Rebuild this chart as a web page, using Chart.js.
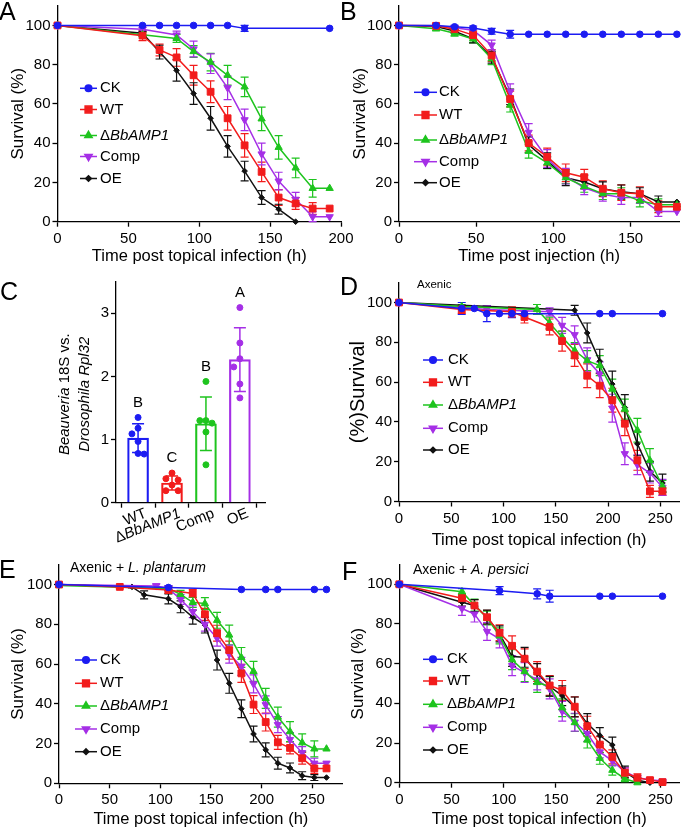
<!DOCTYPE html>
<html><head><meta charset="utf-8">
<script src="https://cdn.jsdelivr.net/npm/chart.js@4.4.1/dist/chart.umd.min.js"></script>
<style>
html,body{margin:0;padding:0;background:#fff;overflow:hidden;}
#wrap{position:relative;width:685px;height:829px;background:#fff;}
canvas{position:absolute;left:0;top:0;}
</style></head><body><div id="wrap">
<canvas id="cA" width="685" height="829"></canvas>
<canvas id="cB" width="685" height="829"></canvas>
<canvas id="cC" width="685" height="829"></canvas>
<canvas id="cD" width="685" height="829"></canvas>
<canvas id="cE" width="685" height="829"></canvas>
<canvas id="cF" width="685" height="829"></canvas>
</div>
<script>
// ---------------- DATA ----------------
const seriesLabels = ['CK', 'WT', 'ΔBbAMP1', 'Comp', 'OE'];
// each point: [time (h), survival (%), error]
const A_CK = [[0,100,0],[60,100,0],[72,100,0],[84,100,0],[96,100,0],[108,100,0],[120,100,0],[132,98.5,1.5],[192,98.5,0]];
const A_WT = [[0,100,0],[60,94.8,2.5],[72,87.5,3],[84,83.7,4.5],[96,74.6,5],[108,66.2,5.5],[120,52.7,6],[132,38.9,6],[144,25.4,5],[156,12.3,4],[168,9.3,3],[180,6.7,3],[192,6.7,0]];
const A_KO = [[0,100,0],[60,95.3,1],[84,93.4,2],[96,86.7,3],[108,81.3,4.5],[120,74.6,5],[132,68.7,5],[144,52.4,6],[156,37.9,6],[168,27.4,5],[180,17,4.5],[192,17,0]];
const A_Comp = [[0,100,0],[60,98.1,1],[84,95.1,2],[96,88,4],[108,80.5,5],[120,68.2,6],[132,51.9,5.5],[144,34.5,5.5],[156,20.7,4.5],[168,11.4,3.5],[180,2.5,2.5],[192,2.5,0]];
const A_OE = [[0,100,0],[60,96,1],[72,86.4,3.5],[84,77.1,5.5],[96,65.3,5.5],[108,52.7,6],[120,38.4,5.5],[132,25.8,5],[144,12.3,3.5],[156,6.4,2.5],[168,0,0]];

const B_CK = [[0,100,0],[24,100,0],[36,99.3,0.8],[48,98.7,1],[60,97,1.5],[72,95.5,2],[84,95.5,0],[96,95.5,0],[108,95.5,0],[120,95.5,0],[132,95.5,0],[144,95.5,0],[156,95.5,0],[168,95.5,0],[180,95.5,0]];
const B_WT = [[0,100,0],[24,99.8,0.5],[36,98.1,1],[48,95.1,2],[60,84.7,3],[72,62.5,4],[84,40.1,4],[96,33,4.5],[108,24.9,4.5],[120,22.7,4],[132,16.8,4],[144,14.8,4],[156,14.3,3.5],[168,7.6,3],[180,7.6,0]];
const B_KO = [[0,100,0],[24,98.3,1],[36,96,1.5],[48,93.1,2],[60,83,3],[72,59.4,3.5],[84,35.9,3.5],[96,30,3],[108,22.4,3],[120,18,3],[132,14.3,3],[144,14.3,3],[156,10.6,3],[168,8.6,3],[180,8.6,0]];
const B_Comp = [[0,100,0],[24,99.8,0.5],[36,98.8,1],[48,97.6,1.5],[60,90,2.5],[72,66.2,4],[84,45.5,4.5],[96,32.2,4.5],[108,23.2,4],[120,17.3,3.5],[132,14,3.5],[144,12.3,3.5],[156,12.3,3],[168,5.2,2.5],[180,5.2,0]];
const B_OE = [[0,100,0],[24,99.5,0.5],[36,97.1,1],[48,93.1,2],[60,83.8,3],[72,63.6,4],[84,39.2,4],[96,31.1,4],[108,22.4,4],[120,20.2,3.5],[132,16.8,3.5],[144,15.2,3.5],[156,14.3,3],[168,10.1,3],[180,10.1,0]];

const D_CK = [[0,100,0],[60,97,3],[72,97,0],[84,94.4,4],[96,94.4,0],[108,94.4,2],[120,94.4,0],[192,94.4,0],[204,94.4,0],[252,94.4,0]];
const D_WT = [[0,100,0],[60,96.5,2],[108,95.3,2.5],[120,92.7,3],[144,87.7,4],[156,80.6,5],[168,73.4,5.5],[180,63.2,6],[192,58.2,6],[204,50.9,6],[216,39.1,6],[228,20.7,5],[240,5.1,3],[252,5.1,2]];
const D_KO = [[0,100,0],[60,98,1],[132,96.5,2.5],[144,89.7,3],[156,82.6,3],[168,75.9,4],[180,70.8,5],[192,68.3,5],[204,56.5,5],[216,46.4,5],[228,35.8,6],[240,20.6,6],[252,7.6,3]];
const D_Comp = [[0,100,0],[84,96.5,2],[144,95.3,2],[156,88.5,4],[168,83.8,4.5],[180,71.2,6],[192,64.1,6],[204,46.9,7],[216,24,5.5],[228,18.5,5],[240,14.3,5],[252,7.1,4]];
const D_OE = [[0,100,0],[168,96.1,2.5],[180,84.7,5],[192,70.5,6],[204,59,6.5],[216,47.2,6.5],[228,29,6],[240,15.2,5],[252,9.3,4.5]];

const E_CK = [[0,100,0],[108,98.5,1],[180,97.5,0],[204,97.5,0],[216,97.5,0],[252,97.5,0],[264,97.5,0]];
const E_WT = [[0,100,0],[60,98.8,0.5],[108,97.2,1.5],[132,95.5,2],[144,85,3],[156,75.5,4],[168,67,4.5],[180,55.3,4.5],[192,39.6,4.5],[204,30.8,4.5],[216,20.6,3.5],[228,17.8,3],[240,12.6,3],[252,7.5,2.5],[264,7.5,0]];
const E_KO = [[0,99.5,0],[108,98,1],[120,95,2],[132,91,2.5],[144,90.4,3],[156,82,4],[168,74.6,5],[180,63.3,5],[192,56.3,5],[204,42.7,5],[216,33.3,5],[228,26,5],[240,20.4,4.5],[252,17.3,4],[264,17.3,0]];
const E_Comp = [[0,100,0],[96,99.3,1],[108,98,1.5],[120,92.5,2.5],[132,86.3,3],[144,80,3.5],[156,73,4],[168,65,4.5],[180,58.8,4.5],[192,50,4.5],[204,39.5,4.5],[216,29.5,4],[228,22,3.5],[240,15.4,3],[252,10.1,2.5],[264,10.1,0]];
const E_OE = [[0,100,0],[72,98.8,0.5],[84,94.8,2],[108,92.8,2.5],[120,88.8,3],[132,83.6,3.5],[144,79.6,4],[156,62,5],[168,50.3,5],[180,37.5,4.5],[192,24.8,4],[204,16.8,3.5],[216,10.1,3],[228,7.7,2.5],[240,3.8,2],[252,2.9,1.5],[264,2.9,0]];

const F_CK = [[0,100,0],[96,96.8,2],[132,95.2,2.5],[144,94,3],[192,94,0],[204,94,0],[252,94,0]];
const F_WT = [[0,100,0],[60,93,2],[72,89.3,3],[84,83.4,3.5],[96,75.6,4],[108,69,5],[120,62.5,5],[132,56,5],[144,49,5],[156,46.5,5],[168,38.3,5],[180,28.5,5],[192,19.2,4],[204,13,3.5],[216,5,2.5],[228,2.5,2],[240,1.3,1],[252,0.3,0.5]];
const F_KO = [[0,100,0],[60,96.3,1.5],[72,89.5,3],[84,83,3.5],[96,74,4],[108,62,5],[120,56,5],[132,50.5,5],[144,48.5,5],[156,37.8,4.5],[168,30.3,4.5],[180,21.5,4],[192,12.3,3],[204,6.3,2.5],[216,2,1.5],[228,0,0]];
const F_Comp = [[0,100,0],[60,87.8,3.5],[72,85,4],[84,76.2,4.5],[96,72.5,4.5],[108,59,5],[120,55.5,5],[132,51.8,5],[144,47.3,5],[156,36,5],[168,30.5,4.5],[180,24.8,4],[192,15.5,3],[204,11,2.5],[216,5.5,2],[228,2.5,1],[240,1.5,1],[252,0.8,0.5]];
const F_OE = [[0,100,0],[60,91,2],[72,89.3,3],[84,83.5,3.5],[96,75,4],[108,63.6,5],[120,63.2,5],[132,55,5],[144,48.6,5],[156,43.8,5],[168,38.2,5],[180,29.8,5],[192,23.8,4],[204,19,4],[216,5.4,3],[228,1.3,1],[240,0,0]];

// Panel C
const cGroups = ['WT', 'ΔBbAMP1', 'Comp', 'OE'];
const cLetters = ['B', 'C', 'B', 'A'];
const cWT = [1.35, 1.18, 1.09, 0.97, 0.78, 0.77];
const cKO = [0.47, 0.38, 0.36, 0.28, 0.19, 0.19];
const cComp = [1.92, 1.30, 1.30, 1.26, 1.12, 0.60];
const cOE = [3.09, 2.53, 2.28, 2.15, 1.88, 1.66];
const cTicks = [0, 1, 2, 3];
const survTicks = [0, 20, 40, 60, 80, 100];
const timeTicks = [0, 50, 100, 150, 200, 250];

// ---------------- STYLE ----------------
const FONT = 'Arial, "Liberation Sans", Helvetica, sans-serif';
const COL = ['#1c1cf2', '#f21c1c', '#1ec41e', '#a52fe6', '#111111'];
const MARK = [
  {pointStyle: 'circle', pointRadius: 3.3, pointRotation: 0},
  {pointStyle: 'rect', pointRadius: 4.8, pointRotation: 0},
  {pointStyle: 'triangle', pointRadius: 4.2, pointRotation: 0},
  {pointStyle: 'triangle', pointRadius: 4.2, pointRotation: 180},
  {pointStyle: 'rectRot', pointRadius: 2.8, pointRotation: 0}
];

function segsFor(label) {
  if (label.startsWith('Δ')) return [['Δ', false], [label.slice(1), true]];
  return [[label, false]];
}
function drawSegs(ctx, segs, x, y, size, align, baseline) {
  const fonts = segs.map(s => (s[1] ? 'italic ' : '') + size + 'px ' + FONT);
  const widths = segs.map((s, i) => { ctx.font = fonts[i]; return ctx.measureText(s[0]).width; });
  const total = widths.reduce((a, b) => a + b, 0);
  let cx = align === 'center' ? x - total / 2 : align === 'right' ? x - total : x;
  ctx.textAlign = 'left';
  ctx.textBaseline = baseline || 'middle';
  segs.forEach((s, i) => { ctx.font = fonts[i]; ctx.fillText(s[0], cx, y); cx += widths[i]; });
}
function drawMarker(ctx, m, x, y) {
  if (Chart.helpers && Chart.helpers.drawPoint) {
    Chart.helpers.drawPoint(ctx, {pointStyle: m.pointStyle, rotation: m.pointRotation, radius: m.pointRadius, borderWidth: 1}, x, y);
  } else {
    ctx.beginPath(); ctx.arc(x, y, m.pointRadius, 0, Math.PI * 2); ctx.fill();
  }
}

const errPlugin = {
  id: 'errbars',
  beforeDatasetsDraw(chart) {
    const ctx = chart.ctx, xs = chart.scales.x, ys = chart.scales.y;
    chart.data.datasets.forEach(ds => {
      if (!ds.errs) return;
      ctx.save(); ctx.strokeStyle = ds.borderColor; ctx.lineWidth = 1.2;
      ds.data.forEach((p, i) => {
        const e = ds.errs[i]; if (!e) return;
        const px = xs.getPixelForValue(p.x), y1 = ys.getPixelForValue(p.y + e), y2 = ys.getPixelForValue(p.y - e);
        ctx.beginPath();
        ctx.moveTo(px, y1); ctx.lineTo(px, y2);
        ctx.moveTo(px - 4, y1); ctx.lineTo(px + 4, y1);
        ctx.moveTo(px - 4, y2); ctx.lineTo(px + 4, y2);
        ctx.stroke();
      });
      ctx.restore();
    });
  }
};
const legendPlugin = {
  id: 'lg',
  afterDraw(chart, args, o) {
    if (!o || !o.ys) return;
    const ctx = chart.ctx;
    chart.data.datasets.forEach((ds, i) => {
      const y = o.ys[i];
      ctx.save();
      ctx.strokeStyle = ds.borderColor; ctx.lineWidth = ds.borderWidth;
      ctx.beginPath(); ctx.moveTo(o.x1, y); ctx.lineTo(o.x2, y); ctx.stroke();
      ctx.fillStyle = ds.borderColor; ctx.strokeStyle = ds.borderColor;
      drawMarker(ctx, MARK[i], (o.x1 + o.x2) / 2, y);
      ctx.fillStyle = '#000';
      drawSegs(ctx, segsFor(ds.label), o.tx, y, o.size, 'left', 'middle');
      ctx.restore();
    });
  }
};
const textPlugin = {
  id: 'tx',
  afterDraw(chart, args, o) {
    if (!o || !o.items) return;
    const ctx = chart.ctx;
    o.items.forEach(it => {
      ctx.save(); ctx.fillStyle = '#000';
      ctx.translate(it.x, it.y);
      if (it.rot) ctx.rotate(it.rot * Math.PI / 180);
      drawSegs(ctx, it.segs, 0, 0, it.size, it.align || 'left', it.baseline || 'middle');
      ctx.restore();
    });
  }
};

function axisCommon() {
  return {
    grid: {display: true, drawOnChartArea: false, drawTicks: true, tickLength: 5, color: '#000', tickColor: '#000', tickWidth: 1.3},
    border: {display: true, color: '#000', width: 1.3},
    ticks: {color: '#000', font: {family: FONT, size: 15}, padding: 2, autoSkip: false, maxRotation: 0, minRotation: 0}
  };
}

function survivalChart(id, g, series, xTitle, extra) {
  const fsX = 16.5, fsY = g.yTitleSize || 17;
  const padL = g.yTitleX - 0.6 * fsY;
  const xBottom = g.xTitleY + 0.6 * fsX;
  const top = g.y0 - (g.y0 - g.y100) * 1.1;
  const datasets = series.map((arr, i) => Object.assign({
    type: 'line', label: seriesLabels[i],
    data: arr.map(p => ({x: p[0], y: p[1]})),
    errs: arr.map(p => p[2]),
    borderColor: COL[i], backgroundColor: COL[i], pointBackgroundColor: COL[i], pointBorderColor: COL[i],
    borderWidth: 1.5, pointBorderWidth: 1, tension: 0, fill: false, clip: false
  }, MARK[i]));
  const xa = axisCommon(), ya = axisCommon();
  Object.assign(xa, {
    type: 'linear', min: 0, max: g.xmax,
    afterBuildTicks: s => { s.ticks = timeTicks.filter(v => v <= g.xmax).map(v => ({value: v})); },
    title: {display: true, text: xTitle, color: '#000', font: {family: FONT, size: fsX}, padding: 0},
    afterFit: s => { s.height = xBottom - g.y0; s.paddingLeft = 0; s.paddingRight = 0; }
  });
  xa.ticks.stepSize = 50; xa.ticks.padding = 3;
  Object.assign(ya, {
    type: 'linear', min: 0, max: 110,
    afterBuildTicks: s => { s.ticks = survTicks.map(v => ({value: v})); },
    title: {display: true, text: g.yTitle || 'Survival (%)', color: '#000', font: {family: FONT, size: fsY}, padding: 0},
    afterFit: s => { s.width = g.left - padL; s.paddingTop = 0; s.paddingBottom = 0; }
  });
  return new Chart(document.getElementById(id), {
    type: 'line',
    data: {datasets},
    options: {
      responsive: false, animation: false, events: [],
      layout: {padding: {left: padL, top: top, right: 685 - g.right, bottom: 829 - xBottom}},
      scales: {x: xa, y: ya},
      plugins: {legend: {display: false}, tooltip: {enabled: false},
        lg: g.legend, tx: {items: extra}}
    },
    plugins: [errPlugin, legendPlugin, textPlugin]
  });
}

// Panel A
survivalChart('cA', {left: 57.5, right: 341, y0: 221.7, y100: 23.3, xmax: 200, yTitleX: 18, xTitleY: 256.7,
  legend: {x1: 80, x2: 97, tx: 100, ys: [88.3, 109.5, 135.5, 156.5, 178.5], size: 15}},
  [A_CK, A_WT, A_KO, A_Comp, A_OE], 'Time post topical infection (h)',
  [{segs: [['A', false]], x: -1, y: 19.5, size: 25, baseline: 'alphabetic'}]);

// Panel B
survivalChart('cB', {left: 399, right: 684.5, y0: 221.7, y100: 23.3, xmax: 181.5, yTitleX: 360, xTitleY: 256.7,
  legend: {x1: 414, x2: 437, tx: 439, ys: [92.3, 115, 140, 161.7, 182.7], size: 15}},
  [B_CK, B_WT, B_KO, B_Comp, B_OE], 'Time post injection (h)',
  [{segs: [['B', false]], x: 340, y: 19.5, size: 25, baseline: 'alphabetic'}]);

// Panel D
survivalChart('cD', {left: 399, right: 685, y0: 501.5, y100: 302.5, xmax: 268, yTitleX: 358, xTitleY: 540, yTitle: '(%)Survival', yTitleSize: 20,
  legend: {x1: 423, x2: 443, tx: 448, ys: [360, 382.3, 405, 428.3, 450], size: 15}},
  [D_CK, D_WT, D_KO, D_Comp, D_OE], 'Time post topical infection (h)',
  [{segs: [['D', false]], x: 340, y: 295, size: 25, baseline: 'alphabetic'},
   {segs: [['Axenic', false]], x: 417, y: 285, size: 11.5}]);

// Panel E
survivalChart('cE', {left: 59, right: 342.7, y0: 783.3, y100: 584.5, xmax: 280, yTitleX: 18.3, xTitleY: 819,
  legend: {x1: 75, x2: 97, tx: 100, ys: [660, 683.3, 706, 729, 751.7], size: 15}},
  [E_CK, E_WT, E_KO, E_Comp, E_OE], 'Time post topical infection (h)',
  [{segs: [['E', false]], x: -1, y: 578, size: 25, baseline: 'alphabetic'},
   {segs: [['Axenic + ', false], ['L. plantarum', true]], x: 70, y: 567.7, size: 14}]);

// Panel F
survivalChart('cF', {left: 399.3, right: 685, y0: 782.7, y100: 584.3, xmax: 268, yTitleX: 358.3, xTitleY: 819,
  legend: {x1: 423, x2: 443, tx: 447, ys: [659.3, 681, 704.3, 727.3, 750], size: 15}},
  [F_CK, F_WT, F_KO, F_Comp, F_OE], 'Time post topical infection (h)',
  [{segs: [['F', false]], x: 342, y: 580, size: 25, baseline: 'alphabetic'},
   {segs: [['Axenic + ', false], ['A. persici', true]], x: 413, y: 570, size: 14}]);

// Panel C
(function () {
  const groups = [cWT, cKO, cComp, cOE];
  const colors = [COL[0], COL[1], COL[2], COL[3]];
  const mean = a => a.reduce((s, v) => s + v, 0) / a.length;
  const sd = a => { const m = mean(a); return Math.sqrt(a.reduce((s, v) => s + (v - m) * (v - m), 0) / (a.length - 1)); };
  function swarm(vals, center) {
    const placed = []; let toggle = -1;
    return vals.map(v => {
      let slot = 0;
      const clash = k => placed.some(p => p.k === k && Math.abs(p.v - v) < 0.15);
      if (clash(0)) { slot = clash(toggle) ? -toggle : toggle; toggle = -toggle; }
      placed.push({k: slot, v});
      return {x: center + slot * 0.18, y: v};
    });
  }
  const datasets = [{
    type: 'bar', label: 'mean',
    data: groups.map((g, i) => ({x: i + 1, y: mean(g)})),
    backgroundColor: 'rgba(255,255,255,0)', borderColor: colors, borderWidth: 1.5,
    barThickness: 21, borderSkipped: 'start', order: 2
  }].concat(groups.map((g, i) => ({
    type: 'scatter', label: cGroups[i], data: swarm(g, i + 1),
    pointRadius: 3, pointBackgroundColor: colors[i], pointBorderColor: colors[i], borderColor: colors[i], order: 1, clip: false
  })));
  const xa = axisCommon(), ya = axisCommon();
  Object.assign(xa, {
    type: 'linear', min: 0.35, max: 4.74, offset: false,
    afterBuildTicks: s => { s.ticks = cGroups.map((g, i) => ({value: i + 1})); },
    afterFit: s => { s.height = 30; s.paddingLeft = 0; s.paddingRight = 0; }
  });
  xa.ticks.callback = () => '';
  Object.assign(ya, {
    type: 'linear', min: 0, max: 3.5,
    afterBuildTicks: s => { s.ticks = cTicks.map(v => ({value: v})); },
    afterFit: s => { s.width = 116; s.paddingTop = 0; s.paddingBottom = 0; }
  });
  const cPlugin = {
    id: 'cextra',
    afterDatasetsDraw(chart) {
      const ctx = chart.ctx, xs = chart.scales.x, ys = chart.scales.y;
      groups.forEach((g, i) => {
        const px = xs.getPixelForValue(i + 1), m = mean(g), s = sd(g);
        const y1 = ys.getPixelForValue(m + s), y2 = ys.getPixelForValue(m - s);
        ctx.save(); ctx.strokeStyle = colors[i]; ctx.lineWidth = 1.5;
        ctx.beginPath();
        ctx.moveTo(px, y1); ctx.lineTo(px, y2);
        ctx.moveTo(px - 6, y1); ctx.lineTo(px + 6, y1);
        ctx.moveTo(px - 6, y2); ctx.lineTo(px + 6, y2);
        ctx.stroke(); ctx.restore();
        // significance letter
        ctx.save(); ctx.fillStyle = '#000';
        drawSegs(ctx, [[cLetters[i], false]], px, ys.getPixelForValue(Math.max.apply(null, g)) - 15, 15, 'center', 'middle');
        ctx.restore();
        // rotated category label
        ctx.save(); ctx.fillStyle = '#000';
        ctx.translate(px + 5, 506); ctx.rotate(-22 * Math.PI / 180);
        drawSegs(ctx, segsFor(cGroups[i]), 0, 0, 15, 'right', 'top');
        ctx.restore();
      });
      // y title (two lines, rotated)
      const cy = (chart.chartArea.top + chart.chartArea.bottom) / 2;
      ctx.save(); ctx.fillStyle = '#000'; ctx.translate(65, cy + 2); ctx.rotate(-Math.PI / 2);
      drawSegs(ctx, [['Beauveria', true], [' 18S vs.', false]], 0, 0, 15, 'center', 'middle');
      ctx.restore();
      ctx.save(); ctx.fillStyle = '#000'; ctx.translate(85, cy + 2); ctx.rotate(-Math.PI / 2);
      drawSegs(ctx, [['Drosophila', true], [' ', false], ['Rpl32', true]], 0, 0, 15, 'center', 'middle');
      ctx.restore();
      ctx.save(); ctx.fillStyle = '#000';
      drawSegs(ctx, [['C', false]], 0, 300, 25, 'left', 'alphabetic');
      ctx.restore();
    }
  };
  new Chart(document.getElementById('cC'), {
    type: 'bar',
    data: {datasets},
    options: {
      responsive: false, animation: false, events: [],
      layout: {padding: {left: 0, top: 281.7, right: 685 - 265, bottom: 829 - 532.7}},
      scales: {x: xa, y: ya},
      plugins: {legend: {display: false}, tooltip: {enabled: false}}
    },
    plugins: [cPlugin]
  });
})();
</script>
</body></html>
